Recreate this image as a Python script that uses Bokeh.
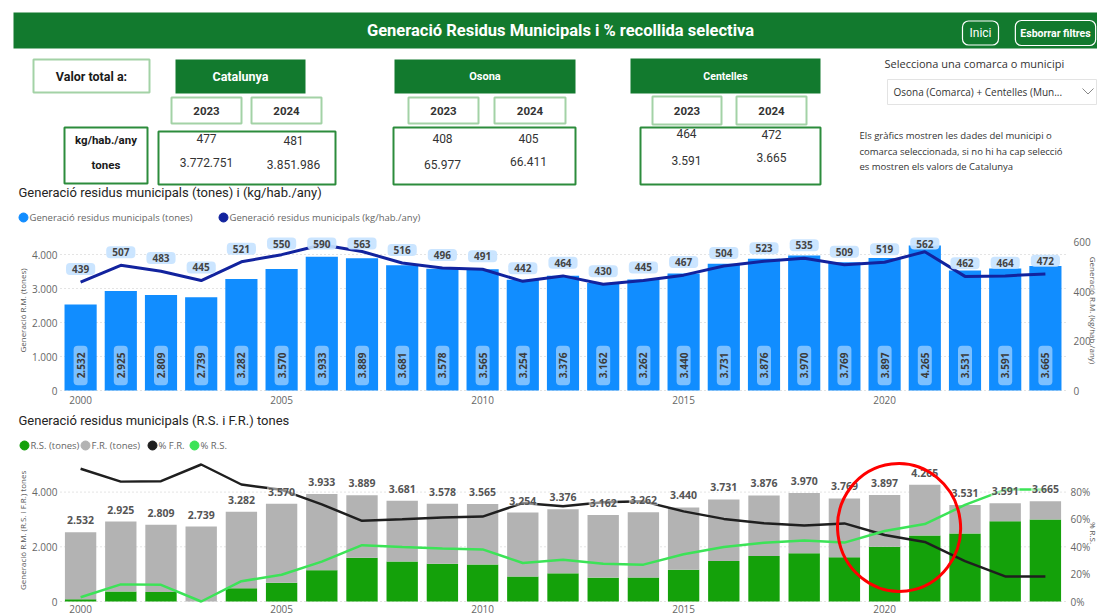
import numpy as np
from bokeh.plotting import figure
from bokeh.models import Range1d, ColumnDataSource
from bokeh.layouts import column
from bokeh.embed import file_html
from bokeh.resources import INLINE
from bokeh.core.properties import value

# ---------------- data ----------------
years = [2000, 2001, 2002, 2003, 2004, 2005, 2006, 2007, 2008, 2009, 2010, 2011, 2012,
         2013, 2014, 2015, 2016, 2017, 2018, 2019, 2020, 2021, 2022, 2023, 2024]
tones_total = [2532, 2925, 2809, 2739, 3282, 3570, 3933, 3889, 3681, 3578, 3565, 3254, 3376,
               3162, 3262, 3440, 3731, 3876, 3970, 3769, 3897, 4265, 3531, 3591, 3665]
kg_hab_any = [439, 507, 483, 445, 521, 550, 590, 563, 516, 496, 491, 442, 464,
              430, 445, 467, 504, 523, 535, 509, 519, 562, 462, 464, 472]
rs_tones = [78, 366, 343, 0, 487, 690, 1145, 1598, 1460, 1380, 1355, 914, 1030,
            873, 877, 1160, 1485, 1660, 1767, 1621, 2005, 2410, 2490, 2935, 2998]
pct_rs = [3.1, 12.5, 12.2, 0.0, 14.8, 19.5, 29.1, 41.1, 39.7, 38.6, 38.0, 28.1, 30.5,
          27.6, 26.9, 34.5, 39.8, 42.9, 44.5, 43.0, 51.5, 56.5, 70.5, 81.7, 81.8]
pct_fr = [96.9, 87.5, 87.8, 100.0, 85.4, 81.5, 70.9, 58.9, 60.1, 61.4, 62.0, 71.9, 69.5,
          72.4, 73.1, 65.8, 60.3, 57.1, 55.5, 57.0, 48.5, 43.5, 29.5, 18.3, 18.2]

year_ticks = [2000, 2005, 2010, 2015, 2020]
tones_ticks_1 = [0, 1000, 2000, 3000, 4000]
kg_ticks = [0, 200, 400, 600]
tones_ticks_2 = [0, 2000, 4000]
pct_ticks = [0, 20, 40, 60, 80]

card_regions = ["Catalunya", "Osona", "Centelles"]
card_years = ["2023", "2024"]
card_kg = [[477, 481], [408, 405], [464, 472]]
card_tones = [[3772751, 3851986], [65977, 66411], [3591, 3665]]


def fmt(v):
    return f"{v:,}".replace(",", ".")


W = 1097
GREEN = "#127A2E"
LIGHT_G = "#A3D2A6"
DARK_G = "#2C8C3C"
TXT = "#252423"
AX = "#666666"
C_TONES = "#118DFF"
C_KG = "#12239E"
C_RS = "#14A10A"
C_FR = "#B3B3B3"
C_PFR = "#1F1F1F"
C_PRS = "#3CE357"
GRID = "#C8C8C8"


def canvas(y_top, y_bottom):
    p = figure(width=W, height=y_bottom - y_top, x_range=Range1d(0, W),
               y_range=Range1d(y_bottom, y_top), output_backend="svg",
               toolbar_location=None, min_border=0, x_axis_location=None,
               y_axis_location=None, outline_line_color=None)
    p.grid.visible = False
    return p


def t(p, x, y, s, size, color=TXT, font="Roboto", bold=False, align="center", **kw):
    p.text(x=[x], y=[y], text=[s], text_font=value(font), text_font_size=f"{size}px",
           text_color=color, text_font_style="bold" if bold else "normal",
           text_align=align, text_baseline="middle", **kw)


def box(p, l, r, tp, b, fill="white", line=None, lw=1.0):
    p.quad(left=[l], right=[r], top=[tp], bottom=[b], fill_color=fill,
           line_color=line, line_width=lw)


# ---------------- header ----------------
hd = canvas(0, 230)
box(hd, 13, 1110, 12, 48, fill=GREEN)
t(hd, 560, 30, "Generació Residus Municipals i % recollida selectiva", 16.5, color="white", bold=True)
t(hd, 980, 32.5, "Inici", 12, color="white", border_line_color="white", border_line_width=1.2,
  border_radius=6, padding=(7, 5))
t(hd, 1055, 32.5, "Esborrar filtres", 10.5, color="white", bold=True, border_line_color="white",
  border_line_width=1.2, border_radius=6, padding=(5, 6))

box(hd, 33, 149, 59, 92, line=LIGHT_G, lw=2)
t(hd, 91, 75.5, "Valor total a:", 12.5, color="#1A1A1A", bold=True)
box(hd, 64, 147, 127, 183, line=DARK_G, lw=2)
t(hd, 105.5, 139, "kg/hab./any", 11.5, color="#1A1A1A", bold=True)
t(hd, 105.5, 164, "tones", 11.5, color="#1A1A1A", bold=True)

card_layout = [
    dict(head=(175, 305, 59, 93), hsize=12.5, yb=[(171, 241), (251, 321)], yy=(97, 123),
         vals=(158, 335, 131, 184), vx=[206, 293], vkg=[138, 140], vt=[162, 164]),
    dict(head=(394, 575, 59, 93), hsize=11, yb=[(408, 478), (494, 565)], yy=(97, 123),
         vals=(393, 575, 127, 184), vx=[442, 528], vkg=[138, 138], vt=[164, 161]),
    dict(head=(630, 820, 58, 93), hsize=10.5, yb=[(652, 721), (736, 806)], yy=(96, 124),
         vals=(640, 820, 127, 184), vx=[686, 771], vkg=[133, 134], vt=[160, 157]),
]
for i, lay in enumerate(card_layout):
    l, r, tp, b = lay["head"]
    box(hd, l, r, tp, b, fill=GREEN)
    t(hd, (l + r) / 2, (tp + b) / 2, card_regions[i], lay["hsize"], color="white", bold=True)
    for j, (yl, yr) in enumerate(lay["yb"]):
        box(hd, yl, yr, lay["yy"][0], lay["yy"][1], line=LIGHT_G, lw=2)
        t(hd, (yl + yr) / 2, sum(lay["yy"]) / 2, card_years[j], 11.5, color="#333333", bold=True)
    l, r, tp, b = lay["vals"]
    box(hd, l, r, tp, b, line=DARK_G, lw=2)
    for j in range(2):
        t(hd, lay["vx"][j], lay["vkg"][j], fmt(card_kg[i][j]), 12, color="#333333")
        t(hd, lay["vx"][j], lay["vt"][j], fmt(card_tones[i][j]), 12, color="#333333")

t(hd, 884, 63, "Selecciona una comarca o municipi", 11, color="#333333", font="Open Sans", align="left")
box(hd, 887, 1096, 79, 104, line="#E3E3E3", lw=1)
t(hd, 893, 91.5, "Osona (Comarca) + Centelles (Mun...", 10, color="#333333", font="Open Sans", align="left")
hd.line([1082, 1087.5, 1093], [88, 93.5, 88], line_color="#888888", line_width=1)
for k, s in enumerate(["Els gràfics mostren les dades del municipi o",
                       "comarca seleccionada, si no hi ha cap selecció",
                       "es mostren els valors de Catalunya"]):
    t(hd, 859, 135 + 15.5 * k, s, 9.5, color="#333333", font="Open Sans", align="left")

t(hd, 18, 192, "Generació residus municipals (tones) i (kg/hab./any)", 13, color=TXT, align="left")
hd.scatter([23], [217], size=9, color=C_TONES)
t(hd, 29, 217, "Generació residus municipals (tones)", 9.5, color=AX, font="Open Sans", align="left")
hd.scatter([223], [217], size=9, color=C_KG)
t(hd, 229, 217, "Generació residus municipals (kg/hab./any)", 9.5, color=AX, font="Open Sans", align="left")

# ---------------- shared horizontal scale for both charts ----------------
PX_YR = 1005 / 25          # plot area from x=60 to x=1065
X_LEFT, X_RIGHT = 1999.5, 2024.5
X_RANGE = (X_LEFT - 60 / PX_YR, X_RIGHT + (W - 1065) / PX_YR)


def chart(height, y_range, extra_name, extra_range):
    p = figure(width=W, height=height, x_range=Range1d(*X_RANGE), y_range=Range1d(*y_range),
               output_backend="svg", toolbar_location=None, outline_line_color=None,
               min_border=0, x_axis_location=None, y_axis_location=None)
    p.extra_y_ranges = {extra_name: Range1d(*extra_range)}
    p.grid.visible = False
    return p


def axis_text(p, xs, ys, labels, align, x_off=0, y_off=0, angle=0.0, size="10px",
              y_range_name="default", baseline="middle", color=AX):
    p.text(x=xs, y=ys, text=labels, x_offset=x_off, y_offset=y_off, angle=angle,
           y_range_name=y_range_name, text_font=value("Open Sans"), text_font_size=size,
           text_color=color, text_align=align, text_baseline=baseline)


# ---------------- chart 1 ----------------
TPX1, KPX = 0.034, 0.247   # px per tone, px per kg
p1 = chart(177, (-17 / TPX1, 160 / TPX1), "kg", (-17 / KPX, 160 / KPX))
src1 = ColumnDataSource(dict(
    year=years, tones=tones_total, kg=kg_hab_any,
    tones_lbl=[fmt(v) for v in tones_total],
    kg_lbl=[str(v) for v in kg_hab_any],
    kg_lbl_y=list(np.minimum(np.array(kg_hab_any) + 53, 595)),
))
p1.segment(x0=X_LEFT, x1=X_RIGHT, y0=tones_ticks_1, y1=tones_ticks_1,
           line_color=GRID, line_dash="1 3", line_width=1)
axis_text(p1, [X_LEFT] * len(tones_ticks_1), tones_ticks_1, [fmt(v) for v in tones_ticks_1], "right", x_off=-3)
axis_text(p1, [X_RIGHT] * len(kg_ticks), kg_ticks, [str(v) for v in kg_ticks], "left", x_off=8,
          y_range_name="kg")
axis_text(p1, year_ticks, [0] * len(year_ticks), [str(v) for v in year_ticks], "center", y_off=9)
axis_text(p1, [X_LEFT], [80 / TPX1], ["Generació R.M. (tones)"], "center", x_off=-38,
          angle=np.pi / 2, size="8px", color="#555555")
axis_text(p1, [X_RIGHT], [80 / TPX1], ["Generació R.M. (kg/hab./any)"], "center", x_off=28,
          angle=-np.pi / 2, size="8px", color="#555555")

p1.vbar(x="year", top="tones", width=0.8, fill_color=C_TONES, line_color=None, source=src1)
p1.line(x="year", y="kg", y_range_name="kg", line_color=C_KG, line_width=3, source=src1)
p1.text(x="year", y=0, text="tones_lbl", angle=np.pi / 2, y_offset=-25, source=src1,
        text_font=value("Open Sans"), text_font_size="10px", text_font_style="bold",
        text_color="#3A3A3A", text_align="center", text_baseline="middle",
        background_fill_color="white", background_fill_alpha=0.45, border_radius=4, padding=(7, 3))
p1.text(x="year", y="kg_lbl_y", y_range_name="kg", text="kg_lbl", source=src1,
        text_font=value("Open Sans"), text_font_size="10px", text_font_style="bold",
        text_color="#444444", text_align="center", text_baseline="middle",
        background_fill_color="#C7E3FF", background_fill_alpha=0.92, border_radius=4, padding=(6, 2))

# ---------------- chart 2 title / legend ----------------
md = canvas(407, 455)
t(md, 18, 420, "Generació residus municipals (R.S. i F.R.) tones", 13, color=TXT, align="left")
for dx, col, lab in [(24, C_RS, "R.S. (tones)"), (85, C_FR, "F.R. (tones)"),
                     (152, C_PFR, "% F.R."), (194, C_PRS, "% R.S.")]:
    md.scatter([dx], [445], size=9, color=col)
    t(md, dx + 6, 445, lab, 9.5, color=AX, font="Open Sans", align="left")

# ---------------- chart 2 ----------------
TPX2, PPX = 0.02735, 1.37   # px per tone, px per percent point
p2 = chart(160, (-14 / TPX2, 146 / TPX2), "pct", (-14 / PPX, 146 / PPX))
src2 = ColumnDataSource(dict(year=years, total=tones_total, rs=rs_tones,
                             pct_rs=pct_rs, pct_fr=pct_fr,
                             lbl=[fmt(v) for v in tones_total]))
p2.segment(x0=X_LEFT, x1=X_RIGHT, y0=tones_ticks_2, y1=tones_ticks_2,
           line_color=GRID, line_dash="1 3", line_width=1)
axis_text(p2, [X_LEFT] * len(tones_ticks_2), tones_ticks_2, [fmt(v) for v in tones_ticks_2], "right", x_off=-3)
axis_text(p2, [X_RIGHT] * len(pct_ticks), pct_ticks, [f"{v}%" for v in pct_ticks], "left", x_off=5,
          y_range_name="pct")
axis_text(p2, [X_LEFT], [2600], ["Generació R.M. (R.S. i F.R.) tones"], "center", x_off=-38,
          angle=np.pi / 2, size="8px", color="#555555")
axis_text(p2, [X_RIGHT], [50], ["% R.S."], "center", x_off=28, angle=-np.pi / 2, size="8px",
          color="#555555", y_range_name="pct")

p2.vbar(x="year", bottom=0, top="rs", width=0.78, fill_color=C_RS, line_color=None, source=src2)
p2.vbar(x="year", bottom="rs", top="total", width=0.78, fill_color=C_FR, line_color=None, source=src2)
p2.line(x="year", y="pct_fr", y_range_name="pct", line_color=C_PFR, line_width=2.5, source=src2)
p2.line(x="year", y="pct_rs", y_range_name="pct", line_color=C_PRS, line_width=2.5, source=src2)
p2.text(x="year", y="total", text="lbl", y_offset=-12, source=src2,
        text_font=value("Open Sans"), text_font_size="10.5px", text_font_style="bold",
        text_color="#555555", text_align="center", text_baseline="middle",
        background_fill_color="white", background_fill_alpha=0.5, padding=1)
axis_text(p2, year_ticks, [0] * len(year_ticks), [str(v) for v in year_ticks], "center", y_off=7)
# red highlight circle (annotation)
p2.ellipse(x=[2020.36], y=[2706], width=123, height=128, width_units="screen",
           height_units="screen", angle=0.12, fill_color=None, line_color="#FF0000", line_width=3)

layout = column(hd, p1, md, p2, spacing=0)
open("out.html", "w").write(file_html(layout, INLINE))
